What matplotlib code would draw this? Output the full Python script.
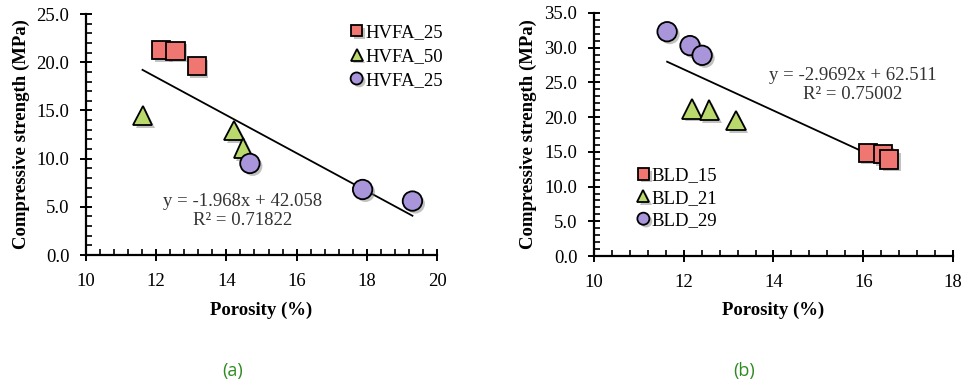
import numpy as np
import matplotlib
matplotlib.use("Agg")
import matplotlib.pyplot as plt
import matplotlib.patheffects as pe
from matplotlib.ticker import MultipleLocator, FormatStrFormatter

plt.rcParams['font.family'] = ['Liberation Serif', 'DejaVu Serif']

# (a) HVFA mixes
a_sq_x = [12.14, 12.55, 13.15]
a_sq_y = [21.3, 21.2, 19.6]
a_tri_x = [11.61, 14.22, 14.48]
a_tri_y = [14.5, 12.9, 11.1]
a_cir_x = [14.67, 17.88, 19.30]
a_cir_y = [9.5, 6.8, 5.6]
a_labels = ['HVFA_25', 'HVFA_50', 'HVFA_25']
a_slope, a_icpt, a_r2 = -1.968, 42.058, 0.71822

# (b) BLD mixes
b_sq_x = [16.10, 16.43, 16.58]
b_sq_y = [14.9, 14.7, 13.9]
b_tri_x = [12.18, 12.57, 13.16]
b_tri_y = [21.2, 21.0, 19.5]
b_cir_x = [11.63, 12.14, 12.41]
b_cir_y = [32.3, 30.3, 28.9]
b_labels = ['BLD_15', 'BLD_21', 'BLD_29']
b_slope, b_icpt, b_r2 = -2.9692, 62.511, 0.75002

sq_col = '#f07672'
tri_col = '#b9d96c'
cir_col = '#a996da'

shadow = [pe.SimplePatchShadow(offset=(2, -2), shadow_rgbFace='#777777', alpha=0.45), pe.Normal()]

fig = plt.figure(figsize=(9.63, 3.87), dpi=100)
ax1 = fig.add_axes([0.0893, 0.341, 0.3645, 0.6227])
ax2 = fig.add_axes([0.6168, 0.3385, 0.3728, 0.628])


def style(ax, xmax, ymax, ystep):
    for s in ['top', 'right']:
        ax.spines[s].set_visible(False)
    for s in ['left', 'bottom']:
        ax.spines[s].set_linewidth(1.6)
    ax.set_xlim(10, xmax)
    ax.set_ylim(0, ymax)
    ax.xaxis.set_major_locator(MultipleLocator(2))
    ax.xaxis.set_minor_locator(MultipleLocator(0.4))
    ax.yaxis.set_major_locator(MultipleLocator(ystep))
    ax.yaxis.set_minor_locator(MultipleLocator(1))
    ax.yaxis.set_major_formatter(FormatStrFormatter('%.1f'))
    ax.tick_params(which='major', direction='inout', length=8, width=1.4, labelsize=13.5)
    ax.tick_params(which='minor', direction='in', length=4, width=1.2)
    ax.tick_params(axis='x', which='major', pad=9)
    ax.tick_params(axis='y', which='major', pad=8)
    ax.set_xlabel('Porosity (%)', fontsize=13.5, fontweight='bold', labelpad=8)
    ax.set_ylabel('Compressive strength (MPa)', fontsize=13.5, fontweight='bold', labelpad=5)
    for lab in ax.get_xticklabels() + ax.get_yticklabels():
        lab.set_clip_on(False)


def points(ax, sx, sy, tx, ty, cx, cy, labels):
    ax.plot(sx, sy, 's', ms=13, mfc=sq_col, mec='black', mew=1.3, label=labels[0],
            path_effects=shadow, zorder=3)
    ax.plot(tx, ty, '^', ms=14, mfc=tri_col, mec='black', mew=1.3, label=labels[1],
            path_effects=shadow, zorder=3)
    ax.plot(cx, cy, 'o', ms=14, mfc=cir_col, mec='black', mew=1.3, label=labels[2],
            path_effects=shadow, zorder=3)


# ---- (a)
style(ax1, 20, 25, 5)
points(ax1, a_sq_x, a_sq_y, a_tri_x, a_tri_y, a_cir_x, a_cir_y, a_labels)
all_x = a_sq_x + a_tri_x + a_cir_x
xs = np.array([min(all_x), max(all_x)])
ax1.plot(xs, a_slope * xs + a_icpt, color='black', lw=1.3, zorder=2)
ax1.text(14.45, 4.55, 'y = %.3fx + %.3f\nR² = %.5f' % (a_slope, a_icpt, a_r2),
         ha='center', va='center', fontsize=13.5, color='#333333', linespacing=1.15)
ax1.legend(loc='upper left', bbox_to_anchor=(0.755, 0.958), frameon=False, fontsize=13.5,
           markerscale=0.62, handlelength=0.6, handletextpad=0.15, labelspacing=0.36,
           borderaxespad=0, borderpad=0)

# ---- (b)
style(ax2, 18, 35, 5)
points(ax2, b_sq_x, b_sq_y, b_tri_x, b_tri_y, b_cir_x, b_cir_y, b_labels)
all_x = b_sq_x + b_tri_x + b_cir_x
xs = np.array([min(all_x), max(all_x)])
ax2.plot(xs, b_slope * xs + b_icpt, color='black', lw=1.3, zorder=2)
ax2.text(15.77, 24.6, 'y = %.4fx + %.3f\nR² = %.5f' % (b_slope, b_icpt, b_r2),
         ha='center', va='center', fontsize=13.5, color='#333333', linespacing=1.15)
ax2.legend(loc='lower left', bbox_to_anchor=(0.122, 0.11), frameon=False, fontsize=13.5,
           markerscale=0.62, handlelength=0.6, handletextpad=0.15, labelspacing=0.28,
           borderaxespad=0, borderpad=0)

# captions
fig.text(233 / 963, 1 - 371 / 387, '(a)', color='#2e8b22', fontsize=13,
         family=['Open Sans', 'DejaVu Sans'], ha='center', va='center')
fig.text(744 / 963, 1 - 371 / 387, '(b)', color='#2e8b22', fontsize=13,
         family=['Open Sans', 'DejaVu Sans'], ha='center', va='center')

fig.savefig('out.png', dpi=100)
